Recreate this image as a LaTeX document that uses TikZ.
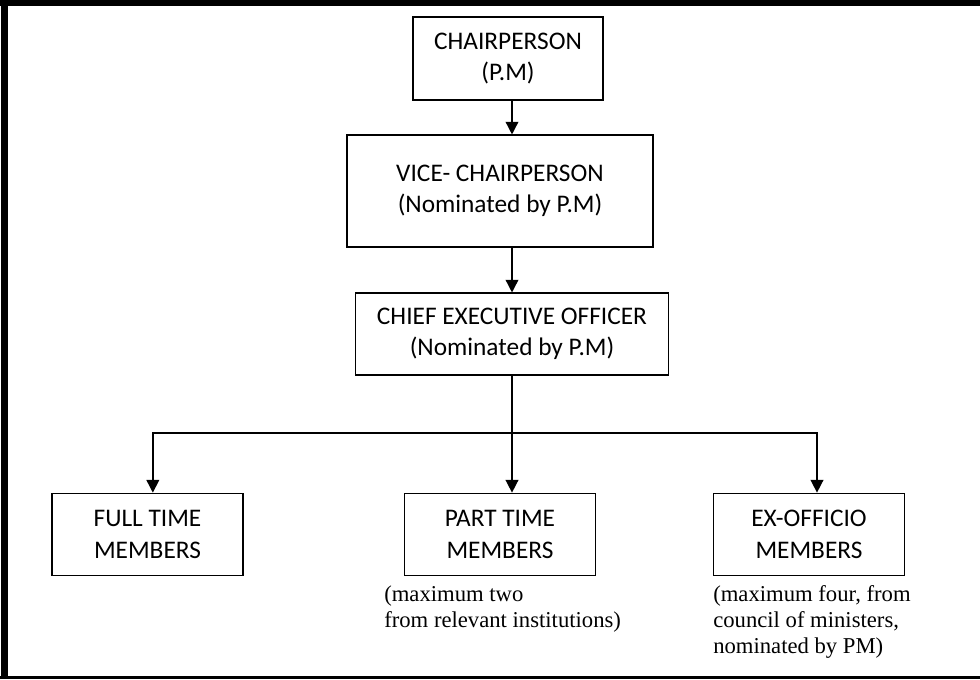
\documentclass[tikz,border=0pt]{standalone}
\usepackage{fontspec}
\setmainfont{Carlito}
\newfontfamily\notefont{Liberation Serif}
\usetikzlibrary{arrows.meta}

\begin{document}
\begin{tikzpicture}[x=0.75pt, y=-0.75pt,
    post/.style={draw, line width=0.8pt, align=center, inner sep=0pt,
      font=\fontsize{19}{23.5}\selectfont},
    note/.style={anchor=north west, align=left, inner sep=0pt,
      font=\notefont\fontsize{17}{19.5}\selectfont},
    wire/.style={line width=1.1pt},
    link/.style={wire, -{Triangle[width=9.5pt,length=9.5pt]}}]
    \useasboundingbox (0,0) rectangle (980,679);

    % frame
    \fill (0,0) rectangle (980,6);
    \fill (1,0) rectangle (8,679);
    \fill (0,676) rectangle (980,679);

    % top of the chain
    \node[post, minimum width=142.5pt, minimum height=62.25pt] (chair) at (508,58.5) {CHAIRPERSON\\(P.M)};
    \node[post, minimum width=229.5pt, minimum height=84pt] (vice) at (500,191) {VICE- CHAIRPERSON\\(Nominated by P.M)};
    \node[post, minimum width=234.75pt, minimum height=61.5pt] (ceo) at (512,334) {CHIEF EXECUTIVE OFFICER\\(Nominated by P.M)};

    % member boxes
    \foreach \name/\cx/\txt in {full/147.5/FULL TIME\\MEMBERS, part/500/PART TIME\\MEMBERS, exo/809/EX-OFFICIO\\MEMBERS} {
      \node[post, minimum width=143.25pt, minimum height=62pt] (\name) at (\cx,534.5) {\txt};
    }

    % notes
    \node[note] (partnote) at (384,585) {(maximum two\\from relevant institutions)};
    \node[note] (exonote) at (713,585) {(maximum four, from\\council of ministers,\\nominated by PM)};

    % arrows
    \coordinate (fork) at (512,433);
    \draw[link] (chair.south -| fork) -- (vice.north -| fork);
    \draw[link] (vice.south -| fork) -- (ceo);
    \draw[wire] (ceo) -- (fork);
    \draw[link] (fork) -| ([xshift=4pt]full.north);
    \draw[link] (fork) -- (fork |- part.north);
    \draw[link] (fork) -| ([xshift=6pt]exo.north);

\end{tikzpicture}
\end{document}
